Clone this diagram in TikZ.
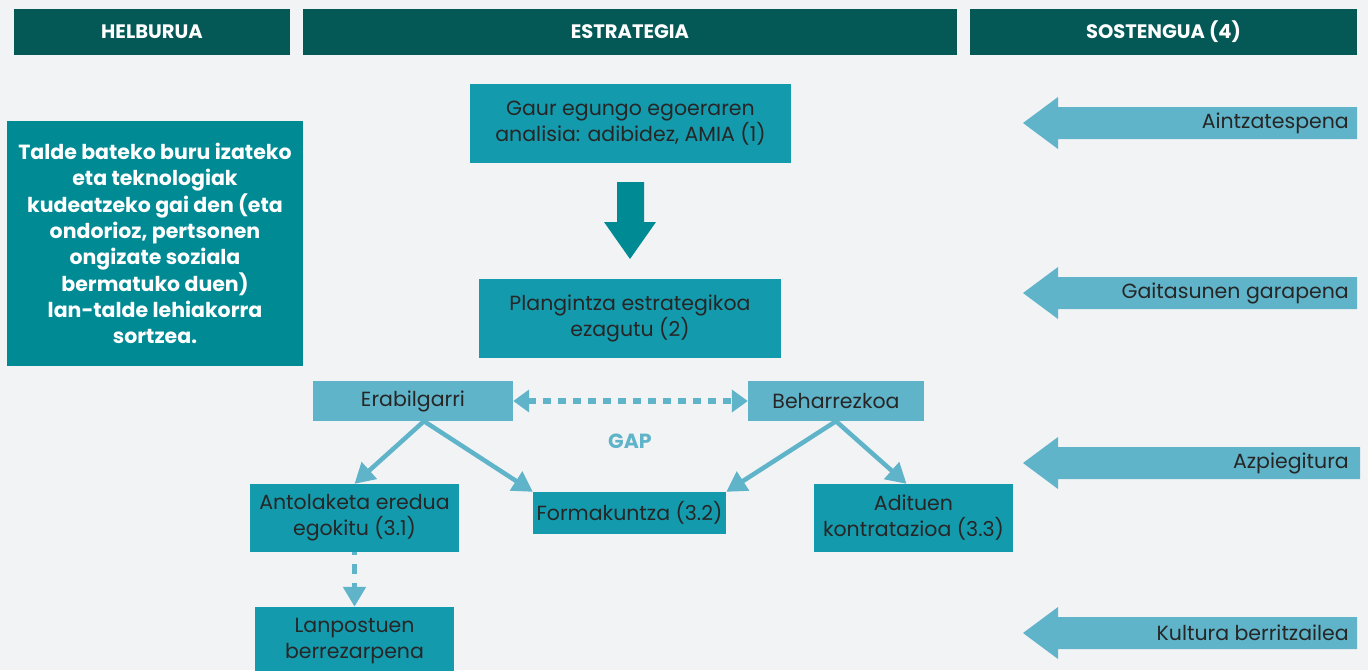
\documentclass[tikz,border=0pt]{standalone}
\usepackage{fontspec}
\setmainfont{Poppins}
\usetikzlibrary{arrows.meta}

\definecolor{bgc}{HTML}{F2F3F5}
\definecolor{hdrc}{HTML}{045957}
\definecolor{goalc}{HTML}{008A94}
\definecolor{boxc}{HTML}{149AAD}
\definecolor{lightc}{HTML}{5FB4C9}
\definecolor{txtc}{HTML}{262626}

\tikzset{
  hdr/.style={fill=hdrc, text=white, inner sep=0pt,
    font=\bfseries\fontsize{19.5}{22}\selectfont},
  goal/.style={fill=goalc, text=white, inner sep=0pt, align=center,
    font=\bfseries\fontsize{20.5}{26.3}\selectfont},
  stepbox/.style={fill=boxc, text=txtc, inner sep=0pt, align=center,
    font=\fontsize{20.5}{26}\selectfont},
  lightbox/.style={fill=lightc, text=txtc, inner sep=0pt, align=center,
    font=\fontsize{20.5}{26}\selectfont},
  conn/.style={draw=lightc, line width=4.5pt,
    -{Triangle[length=20pt,width=22pt]}},
  gapline/.style={draw=lightc, line width=6pt, dash pattern=on 8pt off 7pt,
    {Triangle[length=16pt,width=22pt]}-{Triangle[length=16pt,width=22pt]}},
  dashconn/.style={draw=lightc, line width=5pt, dash pattern=on 10pt off 9pt,
    -{Triangle[length=20pt,width=22pt]}},
  suparrow/.style={fill=lightc},
  suplabel/.style={text=txtc, inner sep=0pt, anchor=east,
    font=\fontsize{20.5}{26}\selectfont},
}

\begin{document}
\begin{tikzpicture}[x=1pt, y=-1pt]
  % page background
  \fill[bgc] (0,0) rectangle (1368,670);
  \useasboundingbox (0,0) rectangle (1368,670);

  % column headers
  \node[hdr, minimum width=276pt, minimum height=46pt] (hGoal) at (152,32) {HELBURUA};
  \node[hdr, minimum width=654pt, minimum height=46pt] (hStrat) at (630,32) {ESTRATEGIA};
  \node[hdr, minimum width=387pt, minimum height=46pt] (hSupp) at (1163.5,32) {SOSTENGUA (4)};

  % goal
  \node[goal, minimum width=296pt, minimum height=245pt] (goal) at (155,243.5)
    {Talde bateko buru izateko\\eta teknologiak\\kudeatzeko gai den (eta\\ondorioz, pertsonen\\ongizate soziala\\bermatuko duen)\\lan-talde lehiakorra\\sortzea.};

  % strategy steps
  \node[stepbox, minimum width=321pt, minimum height=79pt] (analysis) at (630.5,123.5)
    {Gaur egungo egoeraren\\analisia: adibidez, AMIA (1)};
  \node[stepbox, minimum width=302pt, minimum height=79pt] (planning) at (630,318.5)
    {Plangintza estrategikoa\\ezagutu (2)};

  % block arrow between the first two steps
  \fill[goalc] (617,182) -- (644,182) -- (644,222) -- (656,222) -- (630,259)
    -- (604,222) -- (617,222) -- cycle;

  \node[lightbox, minimum width=200pt, minimum height=40pt] (usable) at (413,401) {Erabilgarri};
  \node[lightbox, minimum width=176pt, minimum height=40pt] (needed) at (836,401) {Beharrezkoa};

  \node[text=lightc, font=\bfseries\fontsize{20.5}{22}\selectfont, inner sep=0pt] (gap) at (630,441) {GAP};

  \node[stepbox, minimum width=209pt, minimum height=68pt] (org) at (354.5,518)
    {Antolaketa eredua\\egokitu (3.1)};
  \node[stepbox, minimum width=193pt, minimum height=42pt] (train) at (629.5,513)
    {Formakuntza (3.2)};
  \node[stepbox, minimum width=199pt, minimum height=68pt] (experts) at (913.5,518)
    {Adituen\\kontratazioa (3.3)};
  \node[stepbox, minimum width=199pt, minimum height=68pt] (jobs) at (354.5,641)
    {Lanpostuen\\berrezarpena};

  % connectors
  \draw[gapline] (usable.east) -- (needed.west);
  \draw[conn] ([xshift=11pt]usable.south) -- (org.north);
  \draw[conn] ([xshift=11pt]usable.south) -- (train.north west);
  \draw[conn] (needed.south) -- (train.north east);
  \draw[conn] (needed.south) -- ([xshift=-7pt]experts.north);
  \draw[dashconn, dash phase=7pt] (org.south) -- (jobs.north);

  % support arrows
  \foreach \yc/\xe/\name/\lbl in {123/1357/supA/Aintzatespena,
                                  293/1357/supB/Gaitasunen garapena,
                                  463/1360/supC/Azpiegitura,
                                  633/1357/supD/Kultura berritzailea}{
    \fill[suparrow] (1023,\yc) -- (1058,\yc-26) -- (1058,\yc-16) -- (\xe,\yc-16)
      -- (\xe,\yc+16) -- (1058,\yc+16) -- (1058,\yc+26) -- cycle;
    \node[suplabel] (\name) at (1349,\yc) {\lbl};
  }
\end{tikzpicture}
\end{document}
